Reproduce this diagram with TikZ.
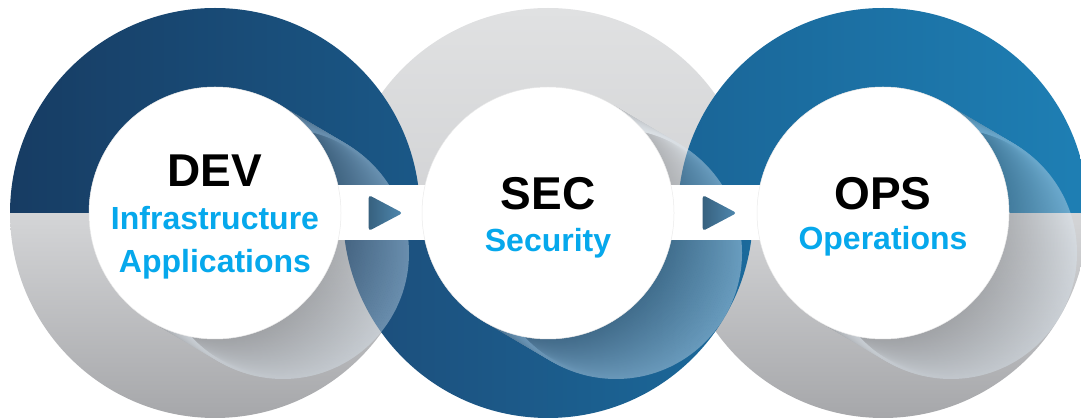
\documentclass[tikz,border=0pt]{standalone}
\usepackage{fontspec}
\setmainfont{Liberation Sans}
\usetikzlibrary{shapes.geometric, calc, positioning}

\definecolor{devblueL}{HTML}{173C63}
\definecolor{devblueR}{HTML}{1A5887}
\definecolor{secblueL}{HTML}{1C4D7A}
\definecolor{secblueR}{HTML}{1B6A9C}
\definecolor{opsblueL}{HTML}{1A6597}
\definecolor{opsblueR}{HTML}{1E7FB4}
\definecolor{ringgrayT}{HTML}{D4D5D7}
\definecolor{ringgrayB}{HTML}{A6A7AA}
\definecolor{palegrayT}{HTML}{E0E1E2}
\definecolor{palegrayB}{HTML}{D2D3D5}
\definecolor{ribdark}{HTML}{7A7E83}
\definecolor{riblight}{HTML}{DCE8F2}
\definecolor{labelblue}{HTML}{06A8EC}
\definecolor{tipL}{HTML}{37617F}
\definecolor{tipR}{HTML}{4F88AF}

\tikzset{
  hub/.style={circle, fill=white, draw=black!8, line width=0.5pt, minimum size=252pt, inner sep=0pt},
  title/.style={anchor=base, font=\fontsize{46}{50}\selectfont\bfseries},
  subtitle/.style={anchor=base, text=labelblue, font=\fontsize{32}{36}\selectfont\bfseries},
  tip/.style={isosceles triangle, isosceles triangle stretches, minimum width=36pt, minimum height=34pt,
    inner sep=0pt, rounded corners=3pt, left color=tipL, right color=tipR},
}

\begin{document}
\begin{tikzpicture}[x=1pt, y=1pt]
    \useasboundingbox (0,0) rectangle (1081,420);
    \clip (0,0) rectangle (1081,420);

    % Ring centres
    \coordinate (c1) at (215,207);
    \coordinate (c2) at (548,207);
    \coordinate (c3) at (883,207);

    % Gray halves go at the back
    \shade[top color=ringgrayT, bottom color=ringgrayB] (c1) ++(-205pt,0) arc[start angle=180, end angle=360, radius=205pt] -- cycle;
    \shade[top color=palegrayT, bottom color=palegrayB] (c2) ++(205pt,0) arc[start angle=0, end angle=180, radius=205pt] -- cycle;
    \shade[top color=ringgrayT, bottom color=ringgrayB] (c3) ++(-205pt,0) arc[start angle=180, end angle=360, radius=205pt] -- cycle;

    % Blue halves on top of them
    \shade[left color=devblueL, right color=devblueR] (c1) ++(205pt,0) arc[start angle=0, end angle=180, radius=205pt] -- cycle;
    \shade[left color=secblueL, right color=secblueR] (c2) ++(-205pt,0) arc[start angle=180, end angle=360, radius=205pt] -- cycle;
    \shade[left color=opsblueL, right color=opsblueR] (c3) ++(205pt,0) arc[start angle=0, end angle=180, radius=205pt] -- cycle;

    % Twisted ribbon: circles sliding off the hub
    \foreach \c in {c1,c2,c3}{
        \begin{scope}[transparency group, opacity=0.4]
            \foreach \i in {0,...,48}{
                \pgfmathsetmacro{\p}{100-\i*100/48}
                \draw[ribdark!\p!riblight, line width=2pt] ($(\c)+({\i*68/48},{-\i*40/48})$) circle[radius=125pt];
            }
        \end{scope}
    }

    % Band joining the hubs
    \fill[white] ([yshift=27.5pt]c1) rectangle ([yshift=-27.5pt]c3);

    % Hubs
    \node[hub] (dev) at (c1) {};
    \node[hub] (sec) at (c2) {};
    \node[hub] (ops) at (c3) {};

    % Arrow tips on the band
    \node[tip] (tip1) at ([xshift=-2pt]$(dev)!0.5!(sec)$) {};
    \node[tip] (tip2) at ([xshift=-2pt]$(sec)!0.5!(ops)$) {};

    % Labels
    \node[title] (devtitle) at ([yshift=26pt]dev.center) {DEV};
    \node[subtitle] (devline1) at ([yshift=-17pt]dev.center) {Infrastructure};
    \node[subtitle] (devline2) at ([yshift=-60pt]dev.center) {Applications};
    \node[title] (sectitle) at ([yshift=3pt]sec.center) {SEC};
    \node[subtitle] (secline) at ([yshift=-39pt]sec.center) {Security};
    \node[title] (opstitle) at ([yshift=3pt]ops.center) {OPS};
    \node[subtitle] (opsline) at ([yshift=-37pt]ops.center) {Operations};
\end{tikzpicture}
\end{document}
